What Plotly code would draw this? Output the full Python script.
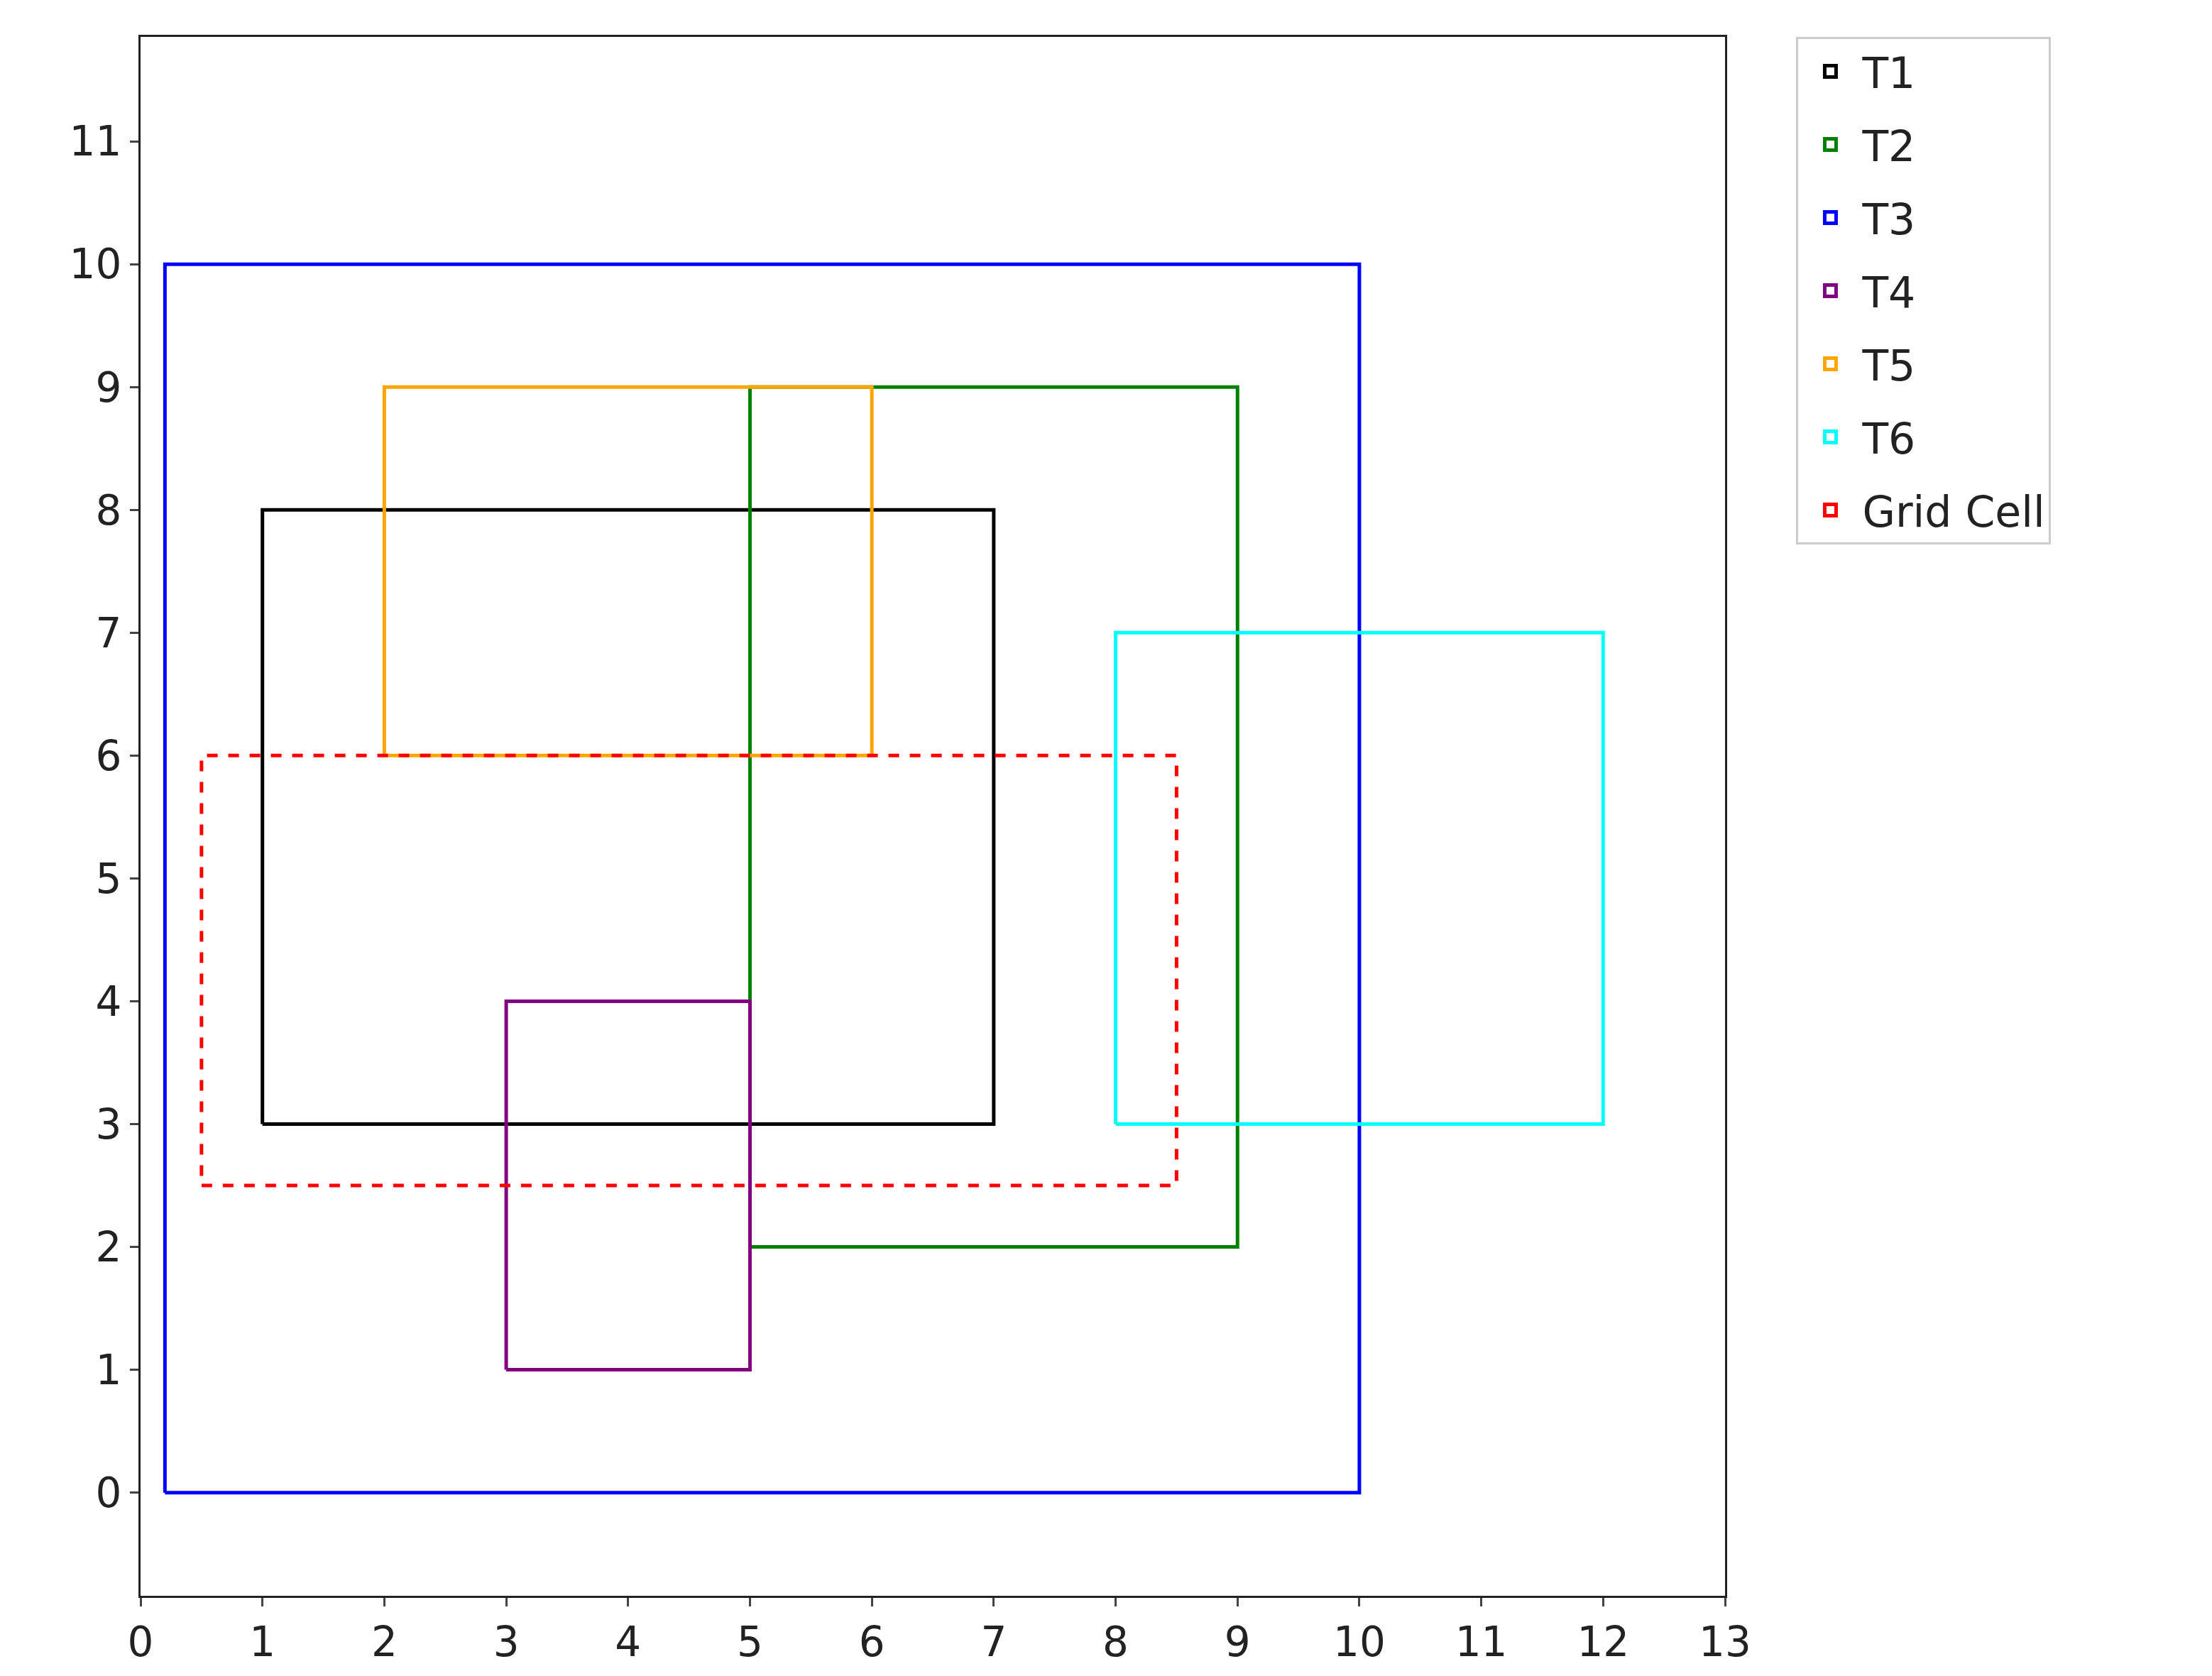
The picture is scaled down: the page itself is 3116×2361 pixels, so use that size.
import plotly.graph_objects as go

names = ["T1", "T2", "T3", "T4", "T5", "T6", "Grid Cell"]
x0 = [1, 5, 0.2, 3, 2, 8, 0.5]
x1 = [7, 9, 10, 5, 6, 12, 8.5]
y0 = [3, 2, 0, 1, 6, 3, 2.5]
y1 = [8, 9, 10, 4, 9, 7, 6]
colors = ["black", "green", "blue", "purple", "orange", "cyan", "red"]
dashes = ["solid"] * 6 + ["dash"]

fig = go.Figure()
for i in range(len(names)):
    fig.add_trace(go.Scatter(
        x=[x0[i], x1[i], x1[i], x0[i], x0[i]],
        y=[y0[i], y0[i], y1[i], y1[i], y0[i]],
        mode="lines", line=dict(color=colors[i], width=5, dash=dashes[i]),
        name=names[i], showlegend=False, legendgroup=names[i]))
    # legend entry drawn as an open box
    fig.add_trace(go.Scatter(
        x=[None], y=[None], mode="markers", name=names[i],
        legendgroup=names[i],
        marker=dict(symbol="square-open", size=44, color=colors[i],
                    line=dict(width=5, color=colors[i]))))

axis = dict(showgrid=False, zeroline=False, showline=True, mirror=True,
            linecolor="#222", linewidth=3, ticks="outside", ticklen=12,
            tickwidth=3, dtick=1, tickfont=dict(size=58, color="#222"))
fig.update_xaxes(range=[0, 13], **axis)
fig.update_yaxes(range=[-0.84, 11.85], **axis)
fig.update_layout(
    width=3116, height=2361, template="none",
    plot_bgcolor="white", paper_bgcolor="white",
    font=dict(family="DejaVu Sans", size=58, color="#222"),
    margin=dict(l=190, r=694, t=44, b=121),
    legend=dict(x=1.045, y=1, xanchor="left", yanchor="top",
                bordercolor="#ccc", borderwidth=3, font=dict(size=60),
                itemwidth=80, tracegroupgap=22),
)
fig.write_html("out.html")
